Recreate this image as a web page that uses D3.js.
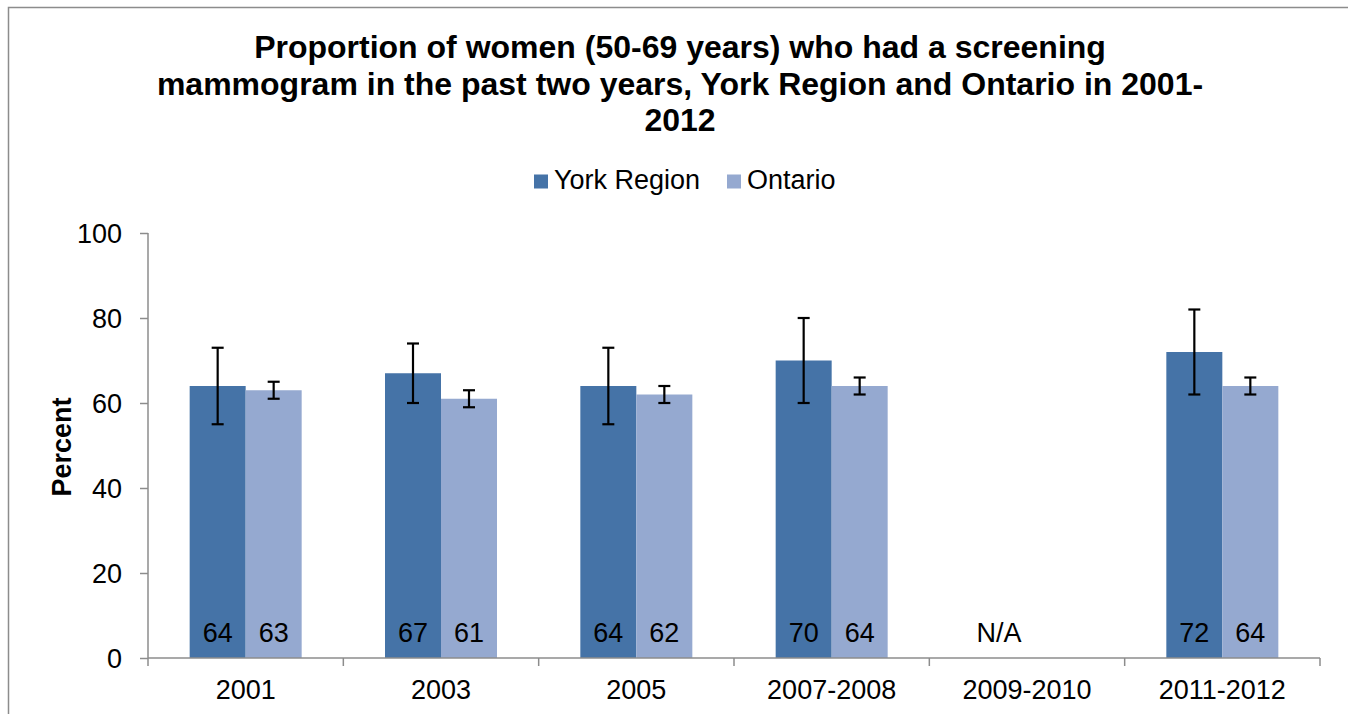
<!DOCTYPE html>
<html><head><meta charset="utf-8">
<script src="https://cdn.jsdelivr.net/npm/d3@7"></script>
<style>body{margin:0;background:#fff;}svg{display:block;font-family:"Liberation Sans",Arial,sans-serif;}</style>
</head><body>
<svg id="c" width="1348" height="714"></svg>
<script>
const categories = ["2001","2003","2005","2007-2008","2009-2010","2011-2012"];
const seriesNames = ["York Region","Ontario"];
const yorkValues = [64,67,64,70,null,72];
const yorkLow = [55,60,55,60,null,62];
const yorkHigh = [73,74,73,80,null,82];
const ontarioValues = [63,61,62,64,null,64];
const ontarioLow = [61,59,60,62,null,62];
const ontarioHigh = [65,63,64,66,null,66];
const yTicks = [0,20,40,60,80,100];
const titleLines = ["Proportion of women (50-69 years) who had a screening","mammogram in the past two years, York Region and Ontario in 2001-","2012"];
const colors = ["#4573A7","#95A9D0"];

const svg = d3.select("#c");
const pLeft=148,pRight=1320,pTop=233,pBottom=658;
const fs = 27;

svg.append("rect").attr("x",8.5).attr("y",7.5).attr("width",1400).attr("height",800)
  .attr("fill","#fff").attr("stroke","#8c8c8c").attr("stroke-width",1.5);

const x0 = d3.scaleBand().domain(categories).range([pLeft,pRight]).paddingInner(0).paddingOuter(0);
const x1 = d3.scaleBand().domain(seriesNames).range([0,x0.bandwidth()]).paddingInner(0).paddingOuter(0.744);
const y = d3.scaleLinear().domain([0,100]).range([pBottom,pTop]);

// title
const tt = svg.append("text").attr("text-anchor","middle").attr("font-weight","bold").attr("font-size",32).attr("fill","#000");
titleLines.forEach((l,i)=>tt.append("tspan").attr("x",680).attr("y",58+i*36.5).text(l));

// legend
const lg = svg.append("g");
const legX=[534,727];
seriesNames.forEach((s,i)=>{
  lg.append("rect").attr("x",legX[i]).attr("y",174.5).attr("width",14).attr("height",14).attr("fill",colors[i]);
  lg.append("text").attr("x",legX[i]+20).attr("y",189).attr("font-size",fs).text(s);
});

// data
const data = categories.map((c,i)=>({c, vals:[
  {s:seriesNames[0],v:yorkValues[i],lo:yorkLow[i],hi:yorkHigh[i]},
  {s:seriesNames[1],v:ontarioValues[i],lo:ontarioLow[i],hi:ontarioHigh[i]}]}));

const g = svg.selectAll("g.cat").data(data).enter().append("g").attr("class","cat").attr("transform",d=>`translate(${x0(d.c)},0)`);
g.selectAll("rect").data(d=>d.vals.filter(v=>v.v!=null)).enter().append("rect")
  .attr("x",d=>x1(d.s)).attr("width",x1.bandwidth())
  .attr("y",d=>y(d.v)).attr("height",d=>y(0)-y(d.v))
  .attr("fill",(d)=>colors[seriesNames.indexOf(d.s)]);

// axes
const yAxis = d3.axisLeft(y).tickValues(yTicks).tickSize(8).tickPadding(18);
const ya = svg.append("g").attr("transform",`translate(${pLeft},0)`).call(yAxis);
ya.selectAll("text").attr("font-size",fs).attr("fill","#000").attr("font-family","Liberation Sans, Arial, sans-serif").attr("dy","0.36em");
ya.selectAll("line").attr("stroke","#8c8c8c").attr("stroke-width",1.5);
ya.select(".domain").attr("stroke","#8c8c8c").attr("stroke-width",1.5).attr("d",`M0,${pTop}V${pBottom}`);

const xa = svg.append("g").attr("transform",`translate(0,${pBottom})`);
xa.append("line").attr("x1",pLeft).attr("x2",pRight).attr("stroke","#8c8c8c").attr("stroke-width",1.5);
const bounds = categories.map(c=>x0(c)).concat([pRight]);
xa.selectAll("line.t").data(bounds).enter().append("line").attr("class","t")
  .attr("x1",d=>d).attr("x2",d=>d).attr("y1",0).attr("y2",8).attr("stroke","#8c8c8c").attr("stroke-width",1.5);
xa.selectAll("text").data(categories).enter().append("text")
  .attr("x",d=>x0(d)+x0.bandwidth()/2).attr("y",41).attr("text-anchor","middle").attr("font-size",fs).text(d=>d);

// error bars
const eb = g.selectAll("g.err").data(d=>d.vals.filter(v=>v.v!=null)).enter().append("g")
  .attr("stroke","#000").attr("stroke-width",2.2);
eb.append("line").attr("x1",d=>x1(d.s)+x1.bandwidth()/2).attr("x2",d=>x1(d.s)+x1.bandwidth()/2)
  .attr("y1",d=>y(d.lo)).attr("y2",d=>y(d.hi));
eb.append("line").attr("x1",d=>x1(d.s)+x1.bandwidth()/2-6).attr("x2",d=>x1(d.s)+x1.bandwidth()/2+6)
  .attr("y1",d=>y(d.lo)).attr("y2",d=>y(d.lo));
eb.append("line").attr("x1",d=>x1(d.s)+x1.bandwidth()/2-6).attr("x2",d=>x1(d.s)+x1.bandwidth()/2+6)
  .attr("y1",d=>y(d.hi)).attr("y2",d=>y(d.hi));

// data labels
g.selectAll("text.lab").data(d=>d.vals.filter((v,i)=>v.v!=null || i===0)).enter().append("text")
  .attr("class","lab").attr("x",d=>x1(d.s)+x1.bandwidth()/2).attr("y",642).attr("text-anchor","middle")
  .attr("font-size",fs).text(d=>d.v==null?"N/A":d.v);

// y title
svg.append("text").attr("transform","translate(71,447) rotate(-90)").attr("text-anchor","middle")
  .attr("font-weight","bold").attr("font-size",fs).text("Percent");
</script>
</body></html>
